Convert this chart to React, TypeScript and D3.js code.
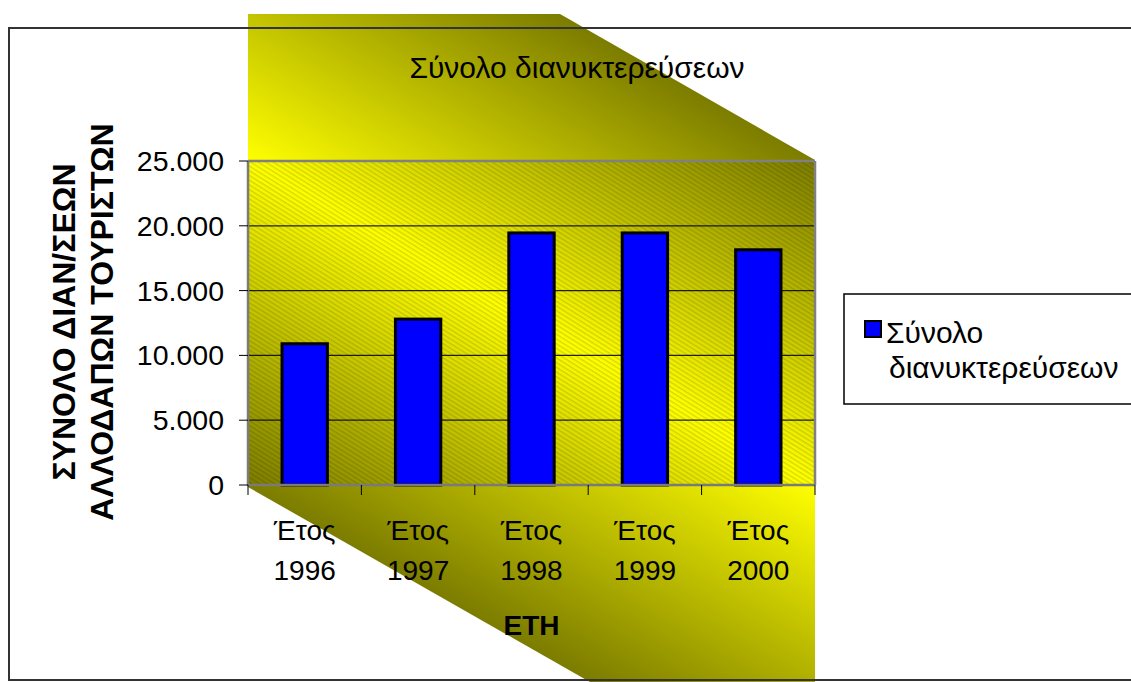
import React from "react";
import * as d3 from "d3";

const categories = ["Έτος 1996", "Έτος 1997", "Έτος 1998", "Έτος 1999", "Έτος 2000"];
const values = [10900, 12800, 19450, 19450, 18150];
const yTicks = [0, 5000, 10000, 15000, 20000, 25000];
const titleText = "Σύνολο διανυκτερεύσεων";
const xAxisTitle = "ETH";
const yAxisTitleLines = ["ΣΥΝΟΛΟ ΔΙΑΝ/ΣΕΩΝ", "ΑΛΛΟΔΑΠΩΝ ΤΟΥΡΙΣΤΩΝ"];
const legendLines = ["Σύνολο", "διανυκτερεύσεων"];

const W = 1131;
const H = 682;
const PL = 248, PR = 815, PT = 161, PB = 485;
const FONT = "'Liberation Sans', Arial, sans-serif";

const locale = d3.formatLocale({ decimal: ",", thousands: ".", grouping: [3], currency: ["", "€"] });
const fmt = locale.format(",");

export default function App() {
  const x = d3.scaleBand<string>().domain(categories).range([PL, PR]).paddingInner(0.6).paddingOuter(0.3);
  const y = d3.scaleLinear().domain([0, 25000]).range([PB, PT]);
  const step = x.step();
  const boundaries = d3.range(categories.length + 1).map((i) => PL + i * step);

  const bandPts: [number, number][] = [
    [PL, 14], [560, 14], [PR, PT - 1], [PR, H], [590, H], [PL, PB + 2],
  ];
  const line = d3.line();

  const cx = (PL + PR) / 2, cy = (PT + PB) / 2;
  const dx = PR - PL, dy = PB - PT;
  const len = Math.hypot(dx, dy);
  const px = dy / len, py = -dx / len;
  const dist = 282;

  return (
    <svg width={W} height={H} style={{ position: "absolute", left: 0, top: 0, display: "block" }} fontFamily={FONT}>
      <defs>
        <linearGradient id="bandGrad" gradientUnits="userSpaceOnUse"
          x1={cx + px * dist} y1={cy + py * dist} x2={cx - px * dist} y2={cy - py * dist}>
          <stop offset="0" stopColor="#7c7c00" />
          <stop offset="0.5" stopColor="#ffff00" />
          <stop offset="1" stopColor="#7c7c00" />
        </linearGradient>
        <pattern id="hatch" patternUnits="userSpaceOnUse" width="4" height="4" patternTransform="rotate(32)">
          <rect x="0" y="0" width="4" height="1.3" fill="#000" opacity="0.15" />
        </pattern>
      </defs>
      <rect x={0} y={0} width={W} height={H} fill="#fff" />
      <path d={line(bandPts) + "Z"} fill="url(#bandGrad)" />
      <rect x={PL} y={PT} width={PR - PL} height={PB - PT} fill="url(#hatch)" />

      {yTicks.filter((t) => t > 0 && t < 25000).map((t) => (
        <line key={"g" + t} x1={PL} x2={PR} y1={y(t)} y2={y(t)} stroke="#000" strokeWidth={1.2} opacity={0.85} />
      ))}

      {categories.map((c, i) => (
        <rect key={c} x={x(c)!} y={y(values[i])} width={x.bandwidth()} height={PB - y(values[i])}
          fill="#0000ff" stroke="#000" strokeWidth={3} />
      ))}

      <line x1={PL} x2={PR} y1={PT} y2={PT} stroke="#808080" strokeWidth={2.5} />
      <line x1={PR} x2={PR} y1={PT} y2={PB} stroke="#808080" strokeWidth={2.5} />
      <line x1={PL} x2={PL} y1={PT} y2={PB + 1} stroke="#7a7a7a" strokeWidth={2.5} />
      <line x1={PL} x2={PR} y1={PB} y2={PB} stroke="#7a7a7a" strokeWidth={2.5} />

      {yTicks.map((t) => (
        <g key={"yt" + t}>
          <line x1={PL - 9} x2={PL} y1={y(t)} y2={y(t)} stroke="#000" strokeWidth={1} />
          <text x={224} y={y(t)} dy={10} textAnchor="end" fontSize={28.5} fill="#000">{fmt(t)}</text>
        </g>
      ))}

      {boundaries.map((b, i) => (
        <line key={"xt" + i} x1={b} x2={b} y1={PB} y2={PB + 10} stroke="#000" strokeWidth={1} />
      ))}
      {categories.map((c) => {
        const [l1, l2] = c.split(" ");
        const mx = x(c)! + x.bandwidth() / 2;
        return (
          <text key={"xl" + c} x={mx} textAnchor="middle" fontSize={28} fill="#000">
            <tspan x={mx} y={540}>{l1}</tspan>
            <tspan x={mx} y={580}>{l2}</tspan>
          </text>
        );
      })}

      <text x={(PL + PR) / 2} y={635} textAnchor="middle" fontSize={28} fontWeight="bold">{xAxisTitle}</text>
      {yAxisTitleLines.map((t, i) => (
        <text key={"yat" + i} transform={`translate(${75 + i * 38},322) rotate(-90)`} textAnchor="middle"
          fontSize={32} fontWeight="bold">{t}</text>
      ))}

      <text x={577} y={78} textAnchor="middle" fontSize={30}>{titleText}</text>

      <rect x={844} y={294} width={320} height={110} fill="#fff" stroke="#000" strokeWidth={1.5} />
      <rect x={865} y={321} width={16} height={16} fill="#0000ff" stroke="#000" strokeWidth={2} />
      <text x={886} y={343} fontSize={30}>{legendLines[0]}</text>
      <text x={889} y={378} fontSize={30}>{legendLines[1]}</text>

      <rect x={9} y={28} width={W + 20} height={652} fill="none" stroke="#333" strokeWidth={2} />
    </svg>
  );
}
